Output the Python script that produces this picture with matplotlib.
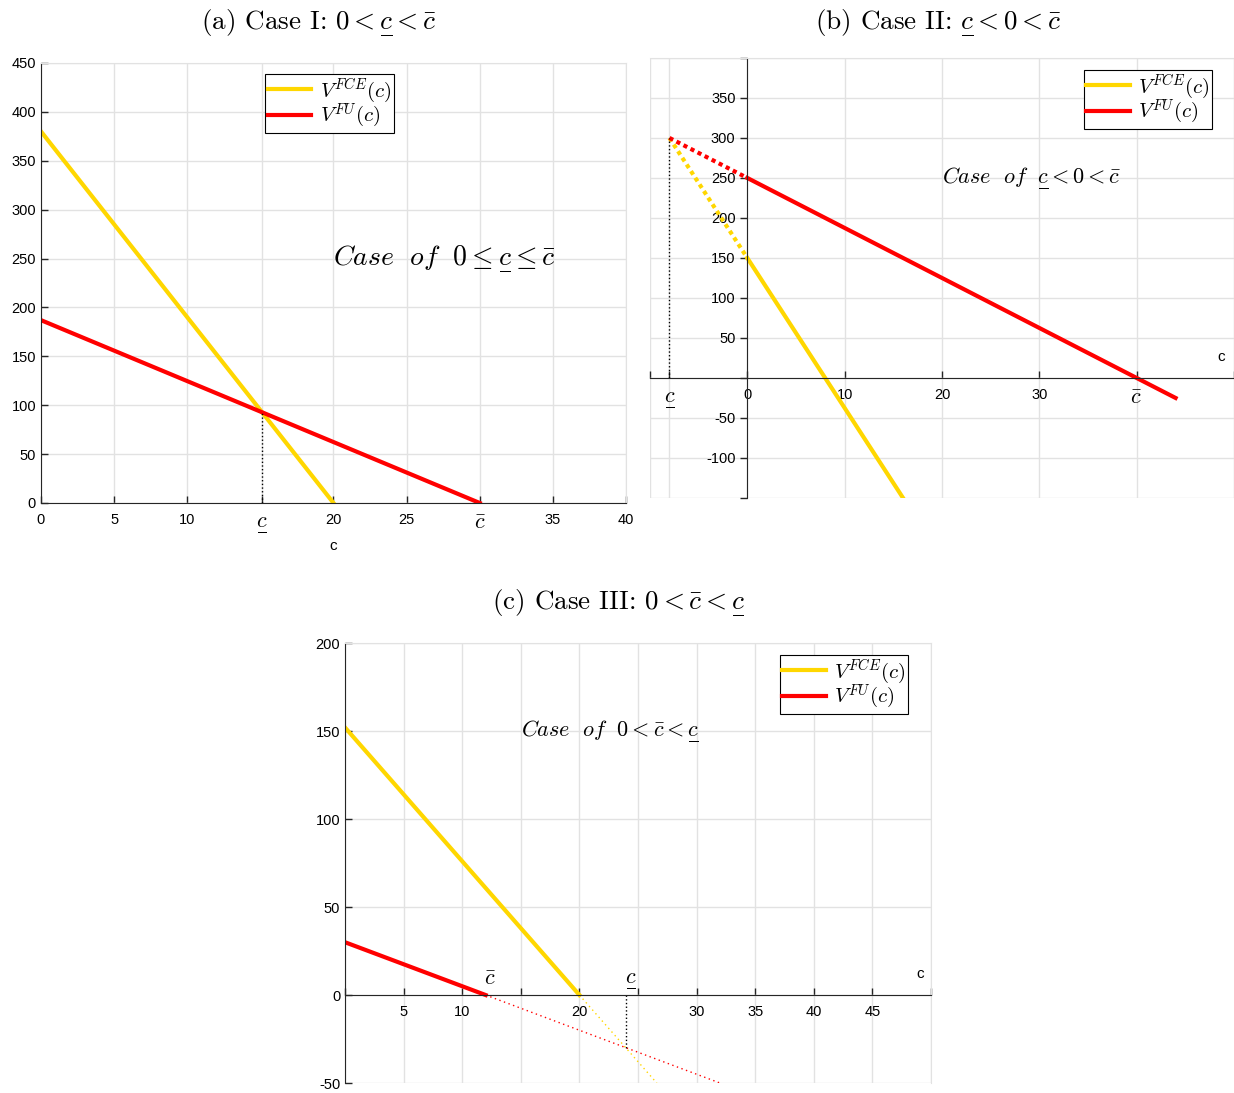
import matplotlib.pyplot as plt

plt.rcParams['font.family'] = ['Liberation Sans', 'DejaVu Sans']
plt.rcParams['mathtext.fontset'] = 'cm'
plt.rcParams['axes.unicode_minus'] = False

GOLD = '#FFD700'
RED = '#FF0000'
GRID = '#e2e2e2'
DARK = '#262626'

# (a) Case I: both lines reach zero at positive c
a_fce_c = [0, 20]
a_fce_v = [380, 0]
a_fu_c = [0, 30]
a_fu_v = [187, 0]

# (b) Case II: solid parts for c >= 0, dotted extensions back to c_low
b_fce_c = [0, 16]
b_fce_v = [150, -150]
b_fu_c = [0, 44]
b_fu_v = [250, -25]
b_fce_ext_c = [-8, 0]
b_fce_ext_v = [300, 150]
b_fu_ext_c = [-8, 0]
b_fu_ext_v = [300, 250]

# (c) Case III: solid until zero, thin dotted continuation below the axis
c_fce_c = [0, 20]
c_fce_v = [152, 0]
c_fu_c = [0, 12]
c_fu_v = [30, 0]
c_fce_ext_c = [20, 26.6]
c_fce_ext_v = [0, -50]
c_fu_ext_c = [12, 32]
c_fu_ext_v = [0, -50]

# trailing thin spaces give the legend text some room on the right
LAB_FCE = r'$V^{FCE}(c)\,\,$'
LAB_FU = r'$V^{FU}(c)\,\,$'
UL = r'\underset{\overline{\;\;}}{c}'   # mathtext has no \underline
C_LOW = '$' + UL + '$'
C_BAR = r'$\bar{c}$'


def crossing(c1, v1, c2, v2):
    # intersection of the two straight lines through the given end points
    k1 = (v1[1] - v1[0]) / (c1[1] - c1[0])
    k2 = (v2[1] - v2[0]) / (c2[1] - c2[0])
    b1 = v1[0] - k1 * c1[0]
    b2 = v2[0] - k2 * c2[0]
    c = (b2 - b1) / (k1 - k2)
    return c, b1 + k1 * c


def base_style(ax, xdir, ydir):
    ax.set_axisbelow(True)
    ax.grid(True, color=GRID, linewidth=1)
    ax.tick_params(axis='x', direction=xdir, length=5, width=1, color=DARK,
                   labelsize=10.5, labelcolor='k', pad=7)
    ax.tick_params(axis='y', direction=ydir, length=5, width=1, color=DARK,
                   labelsize=10.5, labelcolor='k')
    for s in ['top', 'right']:
        ax.spines[s].set_color(GRID)
    for s in ['left', 'bottom']:
        ax.spines[s].set_color(DARK)
    for lab in ax.get_xticklabels():
        if lab.get_text().startswith('$'):
            lab.set_fontsize(16)


def add_legend(ax, x0, y0):
    leg = ax.legend(loc='upper left', bbox_to_anchor=(x0, y0), borderaxespad=0,
                    fancybox=False, edgecolor='k', framealpha=1, fontsize=15,
                    handlelength=2.1, labelspacing=-0.1, borderpad=0.12,
                    handletextpad=0.4)
    leg.get_frame().set_linewidth(0.8)


fig = plt.figure(figsize=(12.34, 10.93), dpi=100)
ax_a = fig.add_axes([0.0332, 0.5398, 0.4741, 0.4026])
ax_b = fig.add_axes([0.5267, 0.5444, 0.4733, 0.4026])
ax_c = fig.add_axes([0.2796, 0.0091, 0.4749, 0.4026])

# ---- (a)
ax = ax_a
ax.plot(a_fce_c, a_fce_v, color=GOLD, lw=3, label=LAB_FCE)
ax.plot(a_fu_c, a_fu_v, color=RED, lw=3, label=LAB_FU)
cl, vl = crossing(a_fce_c, a_fce_v, a_fu_c, a_fu_v)
ax.plot([cl, cl], [0, vl], ':', color='k', lw=1)
ax.set_xlim(0, 40)
ax.set_ylim(0, 450)
ax.set_xticks([0, 5, 10, cl, 20, 25, a_fu_c[1], 35, 40],
              ['0', '5', '10', C_LOW, '20', '25', C_BAR, '35', '40'])
ax.set_yticks(range(0, 451, 50))
ax.set_xlabel('c', fontsize=11)
ax.text(20, 250, r'$Case\ \ of\ \ 0 \leq ' + UL + r' \leq \bar{c}$',
        fontsize=20, va='center')
base_style(ax, 'in', 'in')
add_legend(ax, 0.383, 0.975)

# ---- (b)
ax = ax_b
ax.plot(b_fce_c, b_fce_v, color=GOLD, lw=3, label=LAB_FCE)
ax.plot(b_fu_c, b_fu_v, color=RED, lw=3, label=LAB_FU)
ax.plot(b_fce_ext_c, b_fce_ext_v, color=GOLD, lw=3, linestyle=(0, (1, 0.9)))
ax.plot(b_fu_ext_c, b_fu_ext_v, color=RED, lw=3, linestyle=(0, (1, 0.9)))
cl = b_fu_ext_c[0]
ax.plot([cl, cl], [0, b_fu_ext_v[0]], ':', color='k', lw=1)
ax.set_xlim(-10, 50)
ax.set_ylim(-150, 400)
cbar = b_fu_c[0] + (b_fu_c[1] - b_fu_c[0]) * b_fu_v[0] / (b_fu_v[0] - b_fu_v[1])
ax.set_xticks([-10, cl, 0, 10, 20, 30, cbar, 50],
              ['', C_LOW, '0', '10', '20', '30', C_BAR, ''])
yt = list(range(-150, 401, 50))
ax.set_yticks(yt, ['' if v in (-150, 0, 400) else str(v) for v in yt])
ax.spines['left'].set_position(('data', 0))
ax.spines['bottom'].set_position(('data', 0))
ax.text(48.7, 26, 'c', fontsize=11, ha='center', va='center')
ax.text(20, 250, r'$Case\ \ of\ \ ' + UL + r' < 0 < \bar{c}$',
        fontsize=16, va='center')
base_style(ax, 'in', 'out')
add_legend(ax, 0.743, 0.973)

# ---- (c)
ax = ax_c
ax.plot(c_fce_c, c_fce_v, color=GOLD, lw=3, label=LAB_FCE)
ax.plot(c_fu_c, c_fu_v, color=RED, lw=3, label=LAB_FU)
ax.plot(c_fce_ext_c, c_fce_ext_v, color=GOLD, lw=1, linestyle=(0, (1, 2.5)))
ax.plot(c_fu_ext_c, c_fu_ext_v, color=RED, lw=1, linestyle=(0, (1, 2.5)))
cl, vl = crossing(c_fce_ext_c, c_fce_ext_v, c_fu_ext_c, c_fu_ext_v)
ax.plot([cl, cl], [0, vl], ':', color='k', lw=1)
ax.set_xlim(0, 50)
ax.set_ylim(-50, 200)
xt = list(range(0, 51, 5))
ax.set_xticks(xt, ['' if v in (0, 15, 25, 50) else str(v) for v in xt])
ax.set_yticks(range(-50, 201, 50))
ax.spines['left'].set_position(('data', 0))
ax.spines['bottom'].set_position(('data', 0))
ax.text(c_fu_c[1] + 0.4, 9, C_BAR, fontsize=16, ha='center', va='center')
ax.text(cl + 0.4, 9, C_LOW, fontsize=16, ha='center', va='center')
ax.text(49.1, 12, 'c', fontsize=11, ha='center', va='center')
ax.text(15, 150, r'$Case\ \ of\ \ 0 < \bar{c} < ' + UL + '$',
        fontsize=16, va='center')
base_style(ax, 'in', 'in')
add_legend(ax, 0.742, 0.973)

# subfigure captions, roman text in cmr10 with math parts in mathtext
fig.text(318 / 1234, 1 - 22 / 1093, r'(a) Case I: $0 < ' + UL + r' < \bar{c}$',
         family='cmr10', fontsize=19.5, ha='center', va='center')
fig.text(938 / 1234, 1 - 22 / 1093, r'(b) Case II: $' + UL + r' < 0 < \bar{c}$',
         family='cmr10', fontsize=19.5, ha='center', va='center')
fig.text(618 / 1234, 1 - 602 / 1093, r'(c) Case III: $0 < \bar{c} < ' + UL + '$',
         family='cmr10', fontsize=19.5, ha='center', va='center')

fig.savefig('out.png', dpi=100)
